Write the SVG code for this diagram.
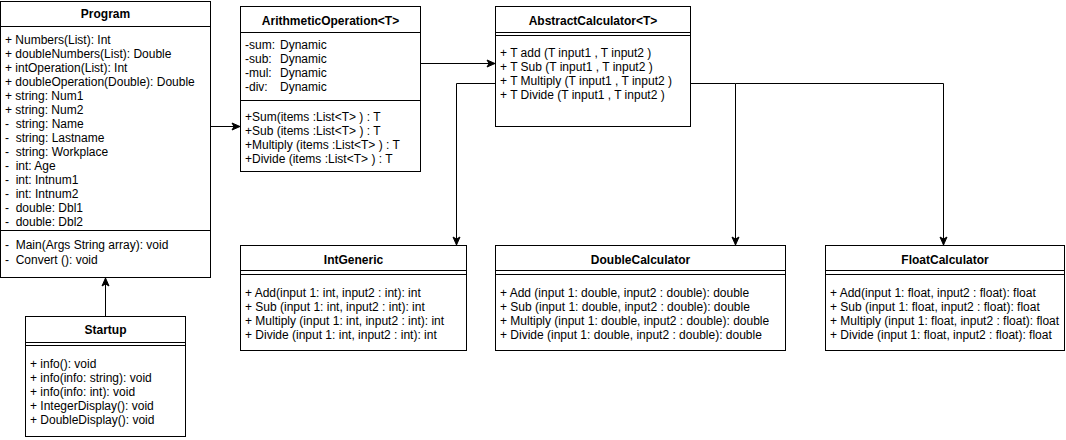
<svg xmlns="http://www.w3.org/2000/svg" width="1066" height="440" viewBox="0 0 1066 440">
<defs>
<style>
.box{fill:#fff;stroke:#000;stroke-width:1}
.sep{stroke:#000;stroke-width:1;fill:none}
.t{font-family:"Liberation Sans",Arial,sans-serif;font-size:12px;fill:#000}
.h{font-family:"Liberation Sans",Arial,sans-serif;font-size:12px;font-weight:bold;fill:#000;text-anchor:middle}
.c{fill:none;stroke:#000;stroke-width:1}
</style>
<marker id="arr" markerUnits="userSpaceOnUse" markerWidth="10" markerHeight="10" viewBox="0 0 10 10" refX="9" refY="5" orient="auto">
<path d="M1,1.5 L9,5 L1,8.5 L3,5 z" fill="#000" stroke="#000" stroke-width="1"/>
</marker>
</defs>
<rect width="1066" height="440" fill="#fff"/>

<g id="connectors">
<path class="c" d="M210.5 126.5 H240" marker-end="url(#arr)"/>
<path class="c" d="M420.5 63.5 H495" marker-end="url(#arr)"/>
<path class="c" d="M495 83.5 H456.5 V245" marker-end="url(#arr)"/>
<path class="c" d="M690.5 83.5 H735.5 V245" marker-end="url(#arr)"/>
<path class="c" d="M735.5 83.5 H943.5 V245" marker-end="url(#arr)"/>
<path class="c" d="M105.5 316 V278" marker-end="url(#arr)"/>
</g>

<g id="Program">
<rect class="box" x="0.5" y="1.5" width="210" height="276"/>
<line class="sep" x1="0.5" y1="26.5" x2="210.5" y2="26.5"/>
<line class="sep" x1="0.5" y1="230.5" x2="210.5" y2="230.5"/>
<text class="h" x="105.5" y="18">Program</text>
<text class="t" xml:space="preserve"><tspan x="5" y="44">+ Numbers(List): Int</tspan><tspan x="5" y="58">+ doubleNumbers(List): Double</tspan><tspan x="5" y="72">+ intOperation(List): Int</tspan><tspan x="5" y="86">+ doubleOperation(Double): Double</tspan><tspan x="5" y="100">+ string: Num1</tspan><tspan x="5" y="114">+ string: Num2</tspan><tspan x="5" y="128">-  string: Name</tspan><tspan x="5" y="142">-  string: Lastname</tspan><tspan x="5" y="156">-  string: Workplace</tspan><tspan x="5" y="170">-  int: Age</tspan><tspan x="5" y="184">-  int: Intnum1</tspan><tspan x="5" y="198">-  int: Intnum2</tspan><tspan x="5" y="212">-  double: Dbl1</tspan><tspan x="5" y="226">-  double: Dbl2</tspan></text>
<text class="t" xml:space="preserve"><tspan x="5" y="249">-  Main(Args String array): void</tspan><tspan x="5" y="264">-  Convert (): void</tspan></text>
</g>

<g id="Startup">
<rect class="box" x="25.5" y="316.5" width="160" height="120"/>
<line class="sep" x1="25.5" y1="342.5" x2="185.5" y2="342.5"/>
<line class="sep" x1="25.5" y1="345.5" x2="185.5" y2="345.5"/>
<text class="h" x="105.5" y="334">Startup</text>
<text class="t"><tspan x="30" y="368">+ info(): void</tspan><tspan x="30" y="382">+ info(info: string): void</tspan><tspan x="30" y="396">+ info(info: int): void</tspan><tspan x="30" y="410">+ IntegerDisplay(): void</tspan><tspan x="30" y="424">+ DoubleDisplay(): void</tspan></text>
</g>

<g id="ArithmeticOperation">
<rect class="box" x="240.5" y="6.5" width="180" height="165"/>
<line class="sep" x1="240.5" y1="32.5" x2="420.5" y2="32.5"/>
<line class="sep" x1="240.5" y1="100.5" x2="420.5" y2="100.5"/>
<text class="h" x="330.5" y="25">ArithmeticOperation&lt;T&gt;</text>
<text class="t"><tspan x="245" y="49">-sum:</tspan><tspan x="280" y="49">Dynamic</tspan><tspan x="245" y="63">-sub:</tspan><tspan x="280" y="63">Dynamic</tspan><tspan x="245" y="77">-mul:</tspan><tspan x="280" y="77">Dynamic</tspan><tspan x="245" y="91">-div:</tspan><tspan x="280" y="91">Dynamic</tspan></text>
<text class="t"><tspan x="245" y="121">+Sum(items :List&lt;T&gt; ) : T</tspan><tspan x="245" y="135">+Sub (items :List&lt;T&gt; ) : T</tspan><tspan x="245" y="149">+Multiply (items :List&lt;T&gt; ) : T</tspan><tspan x="245" y="163">+Divide (items :List&lt;T&gt; ) : T</tspan></text>
</g>

<g id="AbstractCalculator">
<rect class="box" x="495.5" y="6.5" width="195" height="120"/>
<line class="sep" x1="495.5" y1="32.5" x2="690.5" y2="32.5"/>
<line class="sep" x1="495.5" y1="35.5" x2="690.5" y2="35.5"/>
<text class="h" x="593" y="25">AbstractCalculator&lt;T&gt;</text>
<text class="t"><tspan x="500" y="57">+ T add (T input1 , T input2 )</tspan><tspan x="500" y="71">+ T Sub (T input1 , T input2 )</tspan><tspan x="500" y="85">+ T Multiply (T input1 , T input2 )</tspan><tspan x="500" y="99">+ T Divide (T input1 , T input2 )</tspan></text>
</g>

<g id="IntGeneric">
<rect class="box" x="240.5" y="245.5" width="226" height="105"/>
<line class="sep" x1="240.5" y1="270.5" x2="466.5" y2="270.5"/>
<line class="sep" x1="240.5" y1="274.5" x2="466.5" y2="274.5"/>
<text class="h" x="353.5" y="264">IntGeneric</text>
<text class="t"><tspan x="245" y="297">+ Add(input 1: int, input2 : int): int</tspan><tspan x="245" y="311">+ Sub (input 1: int, input2 : int): int</tspan><tspan x="245" y="325">+ Multiply (input 1: int, input2 : int): int</tspan><tspan x="245" y="339">+ Divide (input 1: int, input2 : int): int</tspan></text>
</g>

<g id="DoubleCalculator">
<rect class="box" x="495.5" y="245.5" width="290" height="105"/>
<line class="sep" x1="495.5" y1="270.5" x2="785.5" y2="270.5"/>
<line class="sep" x1="495.5" y1="274.5" x2="785.5" y2="274.5"/>
<text class="h" x="640.5" y="264">DoubleCalculator</text>
<text class="t"><tspan x="500" y="297">+ Add (input 1: double, input2 : double): double</tspan><tspan x="500" y="311">+ Sub (input 1: double, input2 : double): double</tspan><tspan x="500" y="325">+ Multiply (input 1: double, input2 : double): double</tspan><tspan x="500" y="339">+ Divide (input 1: double, input2 : double): double</tspan></text>
</g>

<g id="FloatCalculator">
<rect class="box" x="825.5" y="245.5" width="239" height="105"/>
<line class="sep" x1="825.5" y1="270.5" x2="1064.5" y2="270.5"/>
<line class="sep" x1="825.5" y1="274.5" x2="1064.5" y2="274.5"/>
<text class="h" x="945" y="264">FloatCalculator</text>
<text class="t"><tspan x="830" y="297">+ Add(input 1: float, input2 : float): float</tspan><tspan x="830" y="311">+ Sub (input 1: float, input2 : float): float</tspan><tspan x="830" y="325">+ Multiply (input 1: float, input2 : float): float</tspan><tspan x="830" y="339">+ Divide (input 1: float, input2 : float): float</tspan></text>
</g>
</svg>
